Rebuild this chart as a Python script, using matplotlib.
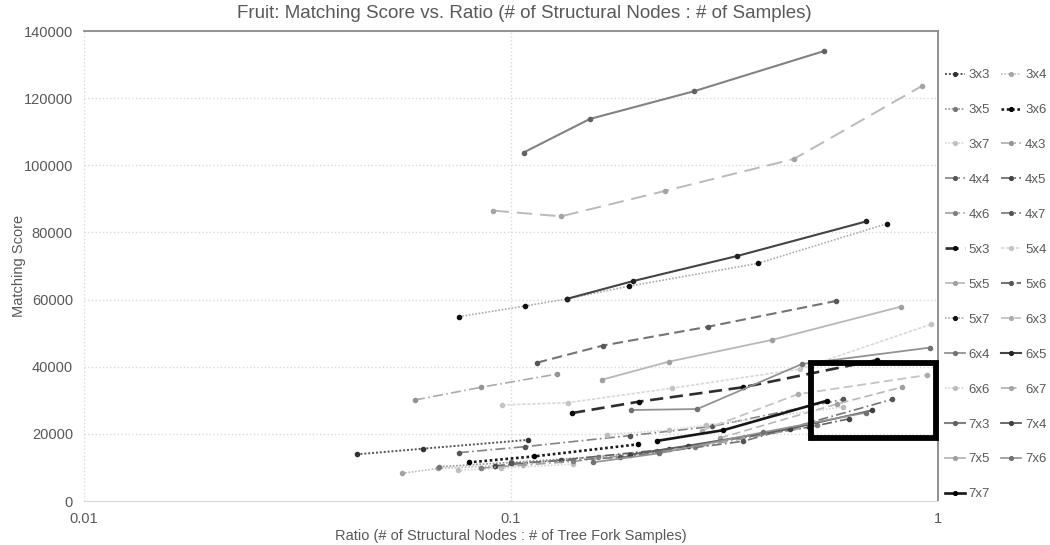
import numpy as np
import matplotlib
matplotlib.use("Agg")
import matplotlib.pyplot as plt
from matplotlib.patches import Rectangle

plt.rcParams['font.family'] = ['Liberation Sans', 'DejaVu Sans']

# Matching score per tree shape (depth x fork), vs node:sample ratio
r_3x3 = [0.0435, 0.0623, 0.1094]
s_3x3 = [13900, 15600, 18200]
r_3x4 = [0.0555, 0.0675, 0.0917, 0.1069]
s_3x4 = [8250, 9700, 10500, 10600]
r_3x5 = [0.068, 0.10, 0.16, 0.22]
s_3x5 = [10200, 11500, 13200, 15000]
r_3x6 = [0.0796, 0.1134, 0.1987]
s_3x6 = [11500, 13300, 16900]
r_3x7 = [0.075, 0.095, 0.14]
s_3x7 = [9200, 9800, 11000]
r_4x3 = [0.0596, 0.0852, 0.128]
s_4x3 = [30100, 33900, 37800]
r_4x4 = [0.0755, 0.108, 0.19, 0.295, 0.60]
s_4x4 = [14400, 16200, 19500, 22200, 30300]
r_4x5 = [0.0917, 0.131, 0.235, 0.50, 0.62]
s_4x5 = [10500, 12200, 15500, 22000, 24500]
r_4x6 = [0.085, 0.14, 0.27, 0.52]
s_4x6 = [9800, 11800, 16000, 22500]
r_4x7 = [0.10, 0.18, 0.35, 0.782]
s_4x7 = [11200, 13000, 17800, 30300]
r_5x3 = [0.139, 0.1995, 0.350, 0.72]
s_5x3 = [26200, 29600, 33900, 42000]
r_5x4 = [0.0954, 0.136, 0.238, 0.475, 0.961]
s_5x4 = [28600, 29300, 33600, 39300, 52600]
r_5x5 = [0.309, 0.58, 0.822]
s_5x5 = [18800, 28900, 33900]
r_5x6 = [0.115, 0.164, 0.289, 0.578]
s_5x6 = [41200, 46300, 51900, 59600]
r_5x7 = [0.0755, 0.108, 0.135, 0.189, 0.379, 0.760]
s_5x7 = [54900, 58100, 60200, 64000, 70800, 82600]
r_6x3 = [0.28, 0.469, 0.941]
s_6x3 = [21000, 31800, 37500]
r_6x4 = [0.191, 0.273, 0.480, 0.958]
s_6x4 = [27100, 27400, 40800, 45700]
r_6x5 = [0.135, 0.193, 0.339, 0.680]
s_6x5 = [60200, 65500, 73000, 83300]
r_6x6 = [0.168, 0.234, 0.287, 0.60]
s_6x6 = [19800, 21100, 22600, 28000]
r_6x7 = [0.091, 0.131, 0.230, 0.460, 0.919]
s_6x7 = [86500, 84800, 92400, 101900, 123700]
r_7x3 = [0.107, 0.153, 0.269, 0.54]
s_7x3 = [103800, 113800, 122100, 134000]
r_7x4 = [0.19, 0.26, 0.45, 0.70]
s_7x4 = [13800, 16500, 21500, 27000]
r_7x5 = [0.163, 0.234, 0.409, 0.819]
s_7x5 = [36100, 41500, 48000, 57900]
r_7x6 = [0.1553, 0.2225, 0.39, 0.678]
s_7x6 = [11500, 14200, 20500, 26300]
r_7x7 = [0.2194, 0.3142, 0.5505]
s_7x7 = [17900, 21100, 29900]

labels = ['3x3', '3x4', '3x5', '3x6', '3x7',
          '4x3', '4x4', '4x5', '4x6', '4x7',
          '5x3', '5x4', '5x5', '5x6', '5x7',
          '6x3', '6x4', '6x5', '6x6', '6x7',
          '7x3', '7x4', '7x5', '7x6', '7x7']

dot = (0, (1, 1))
dashdot = (0, (6, 2, 1, 2))
dash = (0, (5, 2.5))
longdash = (0, (8, 4))

# line colour, dash pattern, width, marker colour
styles = {
    '3x3': ('#555555', dot, 1.4, '#333333'),
    '3x4': ('#bcbcbc', dot, 1.2, '#a4a4a4'),
    '3x5': ('#959595', dot, 1.2, '#777777'),
    '3x6': ('#1c1c1c', dot, 1.9, '#000000'),
    '3x7': ('#d6d6d6', dot, 1.2, '#c0c0c0'),
    '4x3': ('#ababab', dashdot, 1.2, '#949494'),
    '4x4': ('#848484', dashdot, 1.2, '#555555'),
    '4x5': ('#636363', dashdot, 1.2, '#444444'),
    '4x6': ('#a0a0a0', dashdot, 1.2, '#808080'),
    '4x7': ('#767676', dashdot, 1.2, '#555555'),
    '5x3': ('#2e2e2e', dash, 1.9, '#0a0a0a'),
    '5x4': ('#d8d8d8', (0, (2, 1)), 1.2, '#c4c4c4'),
    '5x5': ('#b8b8b8', dash, 1.2, '#a0a0a0'),
    '5x6': ('#747474', dash, 1.5, '#585858'),
    '5x7': ('#acacac', dot, 1.2, '#101010'),
    '6x3': ('#c4c4c4', dash, 1.3, '#acacac'),
    '6x4': ('#929292', '-', 1.3, '#727272'),
    '6x5': ('#444444', '-', 1.5, '#222222'),
    '6x6': ('#d4d4d4', dot, 1.2, '#bcbcbc'),
    '6x7': ('#bababa', longdash, 1.4, '#a4a4a4'),
    '7x3': ('#828282', '-', 1.5, '#626262'),
    '7x4': ('#5e5e5e', '-', 1.3, '#404040'),
    '7x5': ('#b8b8b8', '-', 1.3, '#a0a0a0'),
    '7x6': ('#929292', '-', 1.2, '#727272'),
    '7x7': ('#161616', '-', 1.9, '#000000'),
}

# highlighted region (ratio range, score range)
box_ratio = (0.505, 0.992)
box_score = (18900, 41000)

text_col = '#595959'

fig = plt.figure(figsize=(10.5, 5.45), dpi=100)
ax = fig.add_axes([0.08, 0.0807, 0.8133, 0.8624])

data = globals()
handles = []
for lab in labels:
    col, ls, lw, mcol = styles[lab]
    h, = ax.plot(data['r_' + lab], data['s_' + lab], color=col, linestyle=ls,
                 linewidth=lw, marker='o', markersize=3.0,
                 markerfacecolor=mcol, markeredgecolor=mcol, label=lab)
    handles.append(h)

ax.set_xscale('log')
ax.set_xlim(0.01, 1)
ax.set_ylim(0, 140000)
ax.set_yticks(np.arange(0, 140001, 20000))
ax.set_xticks([0.01, 0.1, 1])
ax.set_xticklabels(['0.01', '0.1', '1'])
ax.xaxis.set_minor_locator(matplotlib.ticker.NullLocator())
ax.tick_params(length=0, labelsize=10.5, labelcolor=text_col, pad=8)

ax.grid(True, which='major', color='#d9d9d9', linestyle=':', linewidth=1.0)
ax.set_axisbelow(True)
ax.spines['left'].set_visible(False)
ax.spines['bottom'].set_color('#d9d9d9')
for side in ('top', 'right'):
    ax.spines[side].set_color('#8a8a8a')
    ax.spines[side].set_linewidth(1.3)

fig.text(524.5 / 1050, 1 - 13 / 545,
         'Fruit: Matching Score vs. Ratio (# of Structural Nodes : # of Samples)',
         fontsize=13.5, color=text_col, ha='center', va='center')
ax.set_xlabel('Ratio (# of Structural Nodes : # of Tree Fork Samples)',
              fontsize=10.5, color=text_col, labelpad=2)
ax.set_ylabel('Matching Score', fontsize=10.5, color=text_col)
ax.yaxis.set_label_coords(-0.068, 0.5)

ax.add_patch(Rectangle((box_ratio[0], box_score[0]), box_ratio[1] - box_ratio[0],
                       box_score[1] - box_score[0], fill=False,
                       edgecolor='black', linewidth=4.2, clip_on=False, zorder=5))

# row-wise order in a two-column legend
order = list(range(0, len(labels), 2)) + list(range(1, len(labels), 2))
leg = fig.legend([handles[i] for i in order], [labels[i] for i in order],
                 ncol=2, loc='upper left', bbox_to_anchor=(945 / 1050, 1 - 69 / 545),
                 frameon=False, fontsize=9.5, labelcolor=text_col,
                 handlelength=1.5, handletextpad=0.3, columnspacing=0.85,
                 labelspacing=1.72, borderpad=0, borderaxespad=0, markerscale=0.9)

fig.savefig('out.png', dpi=100)
